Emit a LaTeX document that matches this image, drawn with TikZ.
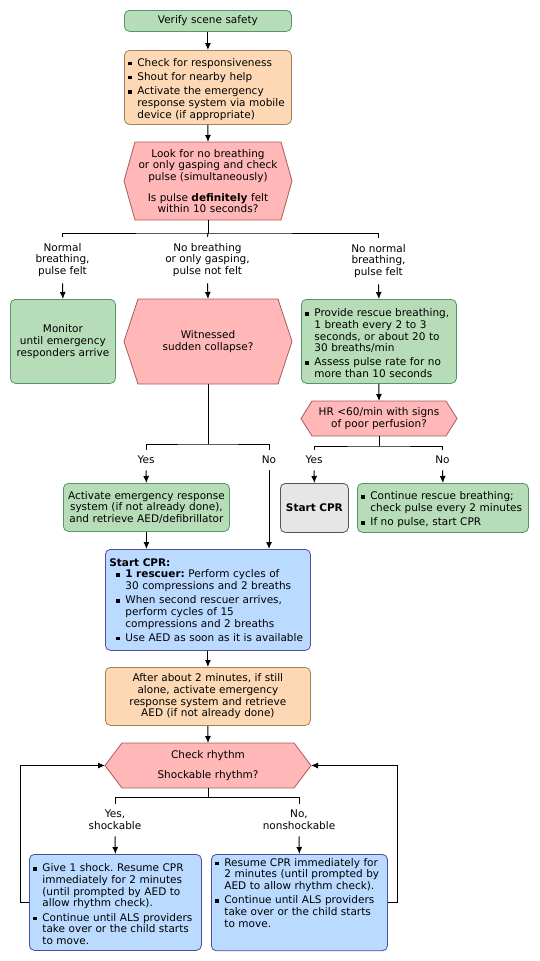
\documentclass[tikz,border=0pt]{standalone}
\usepackage{fontspec}
\setmainfont{DejaVu Sans}
\usetikzlibrary{positioning}
\usetikzlibrary{backgrounds}
\usetikzlibrary{arrows.meta}
\frenchspacing

\definecolor{grfill}{RGB}{183,221,184}
\definecolor{grline}{RGB}{86,150,104}
\definecolor{orfill}{RGB}{252,217,180}
\definecolor{orline}{RGB}{168,128,88}
\definecolor{pkfill}{RGB}{255,183,183}
\definecolor{pkline}{RGB}{170,90,90}
\definecolor{blfill}{RGB}{187,218,255}
\definecolor{blline}{RGB}{78,78,160}
\definecolor{gyfill}{RGB}{230,230,230}
\definecolor{gyline}{RGB}{85,85,85}

\newcommand{\ftx}{\fontsize{10.5pt}{11.7pt}\selectfont}
\newcommand{\bul}{\par\hangindent=9pt\hangafter=1\noindent\hbox to 9pt{\rule[1pt]{3.6pt}{3.6pt}\hfil}}
\newcommand{\bulnext}{\par\vspace{2.5pt}\bul}
\newcommand{\hexback}[2]{\begin{scope}[on background layer]
\draw[hexa]([xshift=#2]#1.north west)--([xshift=-#2]#1.north east)--(#1.east)
--([xshift=-#2]#1.south east)--([xshift=#2]#1.south west)--(#1.west)--cycle;
\end{scope}}

\begin{document}
\begin{tikzpicture}[x=1pt,y=-1pt,line width=1pt,
box/.style={rounded corners=5pt,line width=0.8pt,inner sep=0pt,font=\ftx,anchor=north west},
grbox/.style={box,draw=grline,fill=grfill},
orbox/.style={box,draw=orline,fill=orfill},
blbox/.style={box,draw=blline,fill=blfill},
gybox/.style={box,draw=gyline,fill=gyfill},
hexnode/.style={inner sep=0pt,font=\ftx,align=center,anchor=north west},
hexa/.style={draw=pkline,fill=pkfill,line width=0.8pt},
lbl/.style={align=center,inner xsep=0pt,inner ysep=6pt,font=\ftx},
arr/.style={-{Latex[length=7pt,width=6pt]}}]
\useasboundingbox (0,0) rectangle (539,961);

\node[grbox,minimum width=167,minimum height=21,text width=159,align=center](safe)at(124,10){Verify scene safety};
\node[orbox,minimum width=167,minimum height=74,text width=159,align=left](resp)at(124,50)
{\bul Check for responsiveness\bulnext Shout for nearby help\bulnext Activate the emergency\newline response system via mobile\newline device (if appropriate)\par};
\node[hexnode,minimum width=167,minimum height=77,text width=150](look)at(124,142)
{Look for no breathing\\or only gasping and check\\pulse (simultaneously)\\[9pt]Is pulse \textbf{definitely} felt\\within 10 seconds?};
\hexback{look}{11}

\node[lbl](lN)at(62.5,260){Normal\\breathing,\\pulse felt};
\node[lbl](lB)at(207.5,260){No breathing\\or only gasping,\\pulse not felt};
\node[lbl](lR)at(378.5,261){No normal\\breathing,\\pulse felt};

\node[grbox,minimum width=105,minimum height=84,text width=100,align=center](mon)at(10,299)
{Monitor\\until emergency\\responders arrive};
\node[hexnode,minimum width=167,minimum height=84,text width=140](wit)at(124,299){Witnessed\\sudden collapse?};
\hexback{wit}{14}
\node[grbox,minimum width=155,minimum height=84,text width=147,align=left](resc)at(301,299)
{\bul Provide rescue breathing,\newline 1 breath every 2 to 3\newline seconds, or about 20 to\newline 30 breaths/min\bulnext Assess pulse rate for no\newline more than 10 seconds\par};

\node[hexnode,minimum width=155,minimum height=34,text width=135](hr)at(301,401){HR <60/min with signs\\of poor perfusion?};
\hexback{hr}{11}

\node[lbl](lY1)at(146,460){Yes};
\node[lbl](lN1)at(269,460){No};
\node[lbl](lY2)at(314,460){Yes};
\node[lbl](lN2)at(442.5,460){No};

\node[grbox,minimum width=166,minimum height=48,text width=162,align=center](act)at(63,483)
{Activate emergency response\\system (if not already done),\\and retrieve AED/defibrillator};
\node[gybox,minimum width=68,minimum height=49,text width=64,align=center](cpr1)at(280,483){\textbf{Start CPR}};
\node[grbox,minimum width=171,minimum height=49,text width=163,align=left](cont)at(357,483)
{\bul Continue rescue breathing;\newline check pulse every 2 minutes\bulnext If no pulse, start CPR\par};

\node[blbox,minimum width=205,minimum height=101,text width=197,align=left](cpr)at(105,549)
{\textbf{Start CPR:}\par\leftskip=7pt\bul\textbf{1 rescuer:} Perform cycles of\newline 30 compressions and 2 breaths\bulnext When second rescuer arrives,\newline perform cycles of 15\newline compressions and 2 breaths\bulnext Use AED as soon as it is available\par};
\node[orbox,minimum width=205,minimum height=58,text width=197,align=center](alone)at(105,667)
{After about 2 minutes, if still\\alone, activate emergency\\response system and retrieve\\AED (if not already done)};
\node[hexnode,minimum width=205,minimum height=44,text width=170](rhy)at(105,743){Check rhythm\\[9pt]Shockable rhythm?};
\hexback{rhy}{17}

\node[lbl](lY3)at(115,820){Yes,\\shockable};
\node[lbl](lN3)at(299,820){No,\\nonshockable};

\node[blbox,minimum width=172,minimum height=96,text width=164,align=left](shk)at(29,854)
{\bul Give 1 shock. Resume CPR\newline immediately for 2 minutes\newline (until prompted by AED to\newline allow rhythm check).\bulnext Continue until ALS providers\newline take over or the child starts\newline to move.\par};
\node[blbox,minimum width=176,minimum height=96,text width=168,align=left](nsh)at(211,854)
{\bul Resume CPR immediately for\newline 2 minutes (until prompted by\newline AED to allow rhythm check).\bulnext Continue until ALS providers\newline take over or the child starts\newline to move.\par\vspace{12pt}\hbox{}};

\draw[arr](safe.south)--(resp.north);
\draw[arr](resp.south)--(look.north);
\draw(look.south)--++(0,13)coordinate(J1);
\draw(lN.north)|-(J1)-|(lR.north);
\draw(J1)--(lB.north);
\draw[arr](lN.south)--(mon.north);
\draw[arr](lB.south)--(wit.north);
\draw[arr](lR.south)--(resc.north);
\draw[arr](resc.south)--(hr.north);
\draw(hr.south)--++(0,10)coordinate(J2);
\draw(lY2.north)|-(J2)-|(lN2.north);
\draw[arr](lY2.south)--(cpr1.north);
\draw[arr](lN2.south)--(cont.north);
\draw(wit.south)--++(0,60)coordinate(J3);
\draw(lY1.north)|-(J3)-|(lN1.north);
\draw[arr](lY1.south)--(act.north);
\draw[arr](lN1.south)--(lN1.south|-cpr.north);
\draw[arr](act.south)--(act.south|-cpr.north);
\draw[arr](cpr.south)--(alone.north);
\draw[arr](alone.south)--(rhy.north);
\draw(rhy.south)--++(0,9)coordinate(J4);
\draw(lY3.north)|-(J4)-|(lN3.north);
\draw[arr](lY3.south)--(shk.north);
\draw[arr](lN3.south)--(nsh.north);
\draw[arr](shk.west)--++(-9,0)|-(rhy.west);
\draw[arr](nsh.east)--++(10,0)|-(rhy.east);
\end{tikzpicture}
\end{document}
